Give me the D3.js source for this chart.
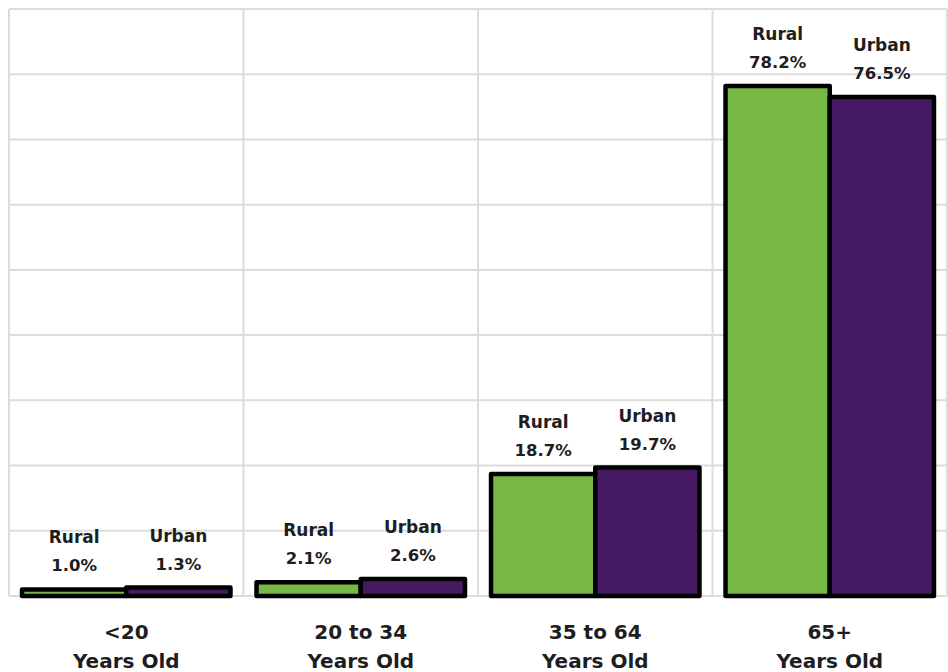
<!DOCTYPE html>
<html>
<head>
<meta charset="utf-8">
<script src="https://cdn.jsdelivr.net/npm/d3@7"></script>
<style>
  html, body { margin: 0; padding: 0; background: #ffffff; }
  svg { display: block; }
  text { font-family: "DejaVu Sans", "Open Sans", sans-serif; font-weight: 700; fill: #1e1e1e; }
</style>
</head>
<body>
<svg id="chart" width="948" height="672"></svg>
<script>
const categories = ["<20", "20 to 34", "35 to 64", "65+"];
const categorySub = ["Years Old", "Years Old", "Years Old", "Years Old"];
const series = ["Rural", "Urban"];
const rural = [1.0, 2.1, 18.7, 78.2];
const urban = [1.3, 2.6, 19.7, 76.5];
const yTicks = [0, 10, 20, 30, 40, 50, 60, 70, 80, 90];

const colors = { Rural: "#76b843", Urban: "#461a62" };

const svg = d3.select("#chart");
const mLeft = 9, mRight = 947, mTop = 9, mBottom = 596;

const x0 = d3.scaleBand().domain(categories).range([mLeft, mRight]).padding(0);
const x1 = d3.scaleBand().domain(series).range([0, x0.bandwidth()]).paddingInner(0).paddingOuter(0.125);
const y = d3.scaleLinear().domain([0, 90]).range([mBottom, mTop]);

// Gridlines
const grid = svg.append("g");
grid.selectAll("line.h").data(yTicks).join("line")
  .attr("x1", mLeft).attr("x2", mRight)
  .attr("y1", d => y(d)).attr("y2", d => y(d))
  .attr("stroke", "#dcdcdc").attr("stroke-width", 2);
const vEdges = categories.map(c => x0(c)).concat([mRight]);
grid.selectAll("line.v").data(vEdges).join("line")
  .attr("x1", d => d).attr("x2", d => d)
  .attr("y1", mTop).attr("y2", mBottom)
  .attr("stroke", "#dcdcdc").attr("stroke-width", 2);

const data = categories.map((c, i) => ({
  cat: c,
  vals: [{ s: "Rural", v: rural[i] }, { s: "Urban", v: urban[i] }]
}));

const groups = svg.append("g").selectAll("g").data(data).join("g")
  .attr("transform", d => `translate(${x0(d.cat)},0)`);

groups.selectAll("rect").data(d => d.vals).join("rect")
  .attr("x", d => x1(d.s))
  .attr("width", x1.bandwidth())
  .attr("y", d => y(d.v))
  .attr("height", d => y(0) - y(d.v))
  .attr("fill", d => colors[d.s])
  .attr("stroke", "#000")
  .attr("stroke-width", 4.5)
  .attr("stroke-linejoin", "round");

const lbl = groups.selectAll("g.lbl").data(d => d.vals).join("g")
  .attr("class", "lbl");
lbl.append("text")
  .attr("x", d => x1(d.s) + x1.bandwidth() / 2)
  .attr("y", d => y(d.v) - 46)
  .attr("text-anchor", "middle")
  .attr("font-size", 17)
  .text(d => d.s);
lbl.append("text")
  .attr("x", d => x1(d.s) + x1.bandwidth() / 2)
  .attr("y", d => y(d.v) - 18)
  .attr("text-anchor", "middle")
  .attr("font-size", 16.5)
  .text(d => d.v.toFixed(1) + "%");

// Category labels
const cl = svg.append("g").selectAll("text").data(categories).join("text")
  .attr("x", d => x0(d) + x0.bandwidth() / 2)
  .attr("text-anchor", "middle")
  .attr("font-size", 20);
cl.append("tspan").attr("x", d => x0(d) + x0.bandwidth() / 2).attr("y", 639).text(d => d);
cl.append("tspan").attr("x", d => x0(d) + x0.bandwidth() / 2).attr("y", 668).text((d, i) => categorySub[i]);
</script>
</body>
</html>
